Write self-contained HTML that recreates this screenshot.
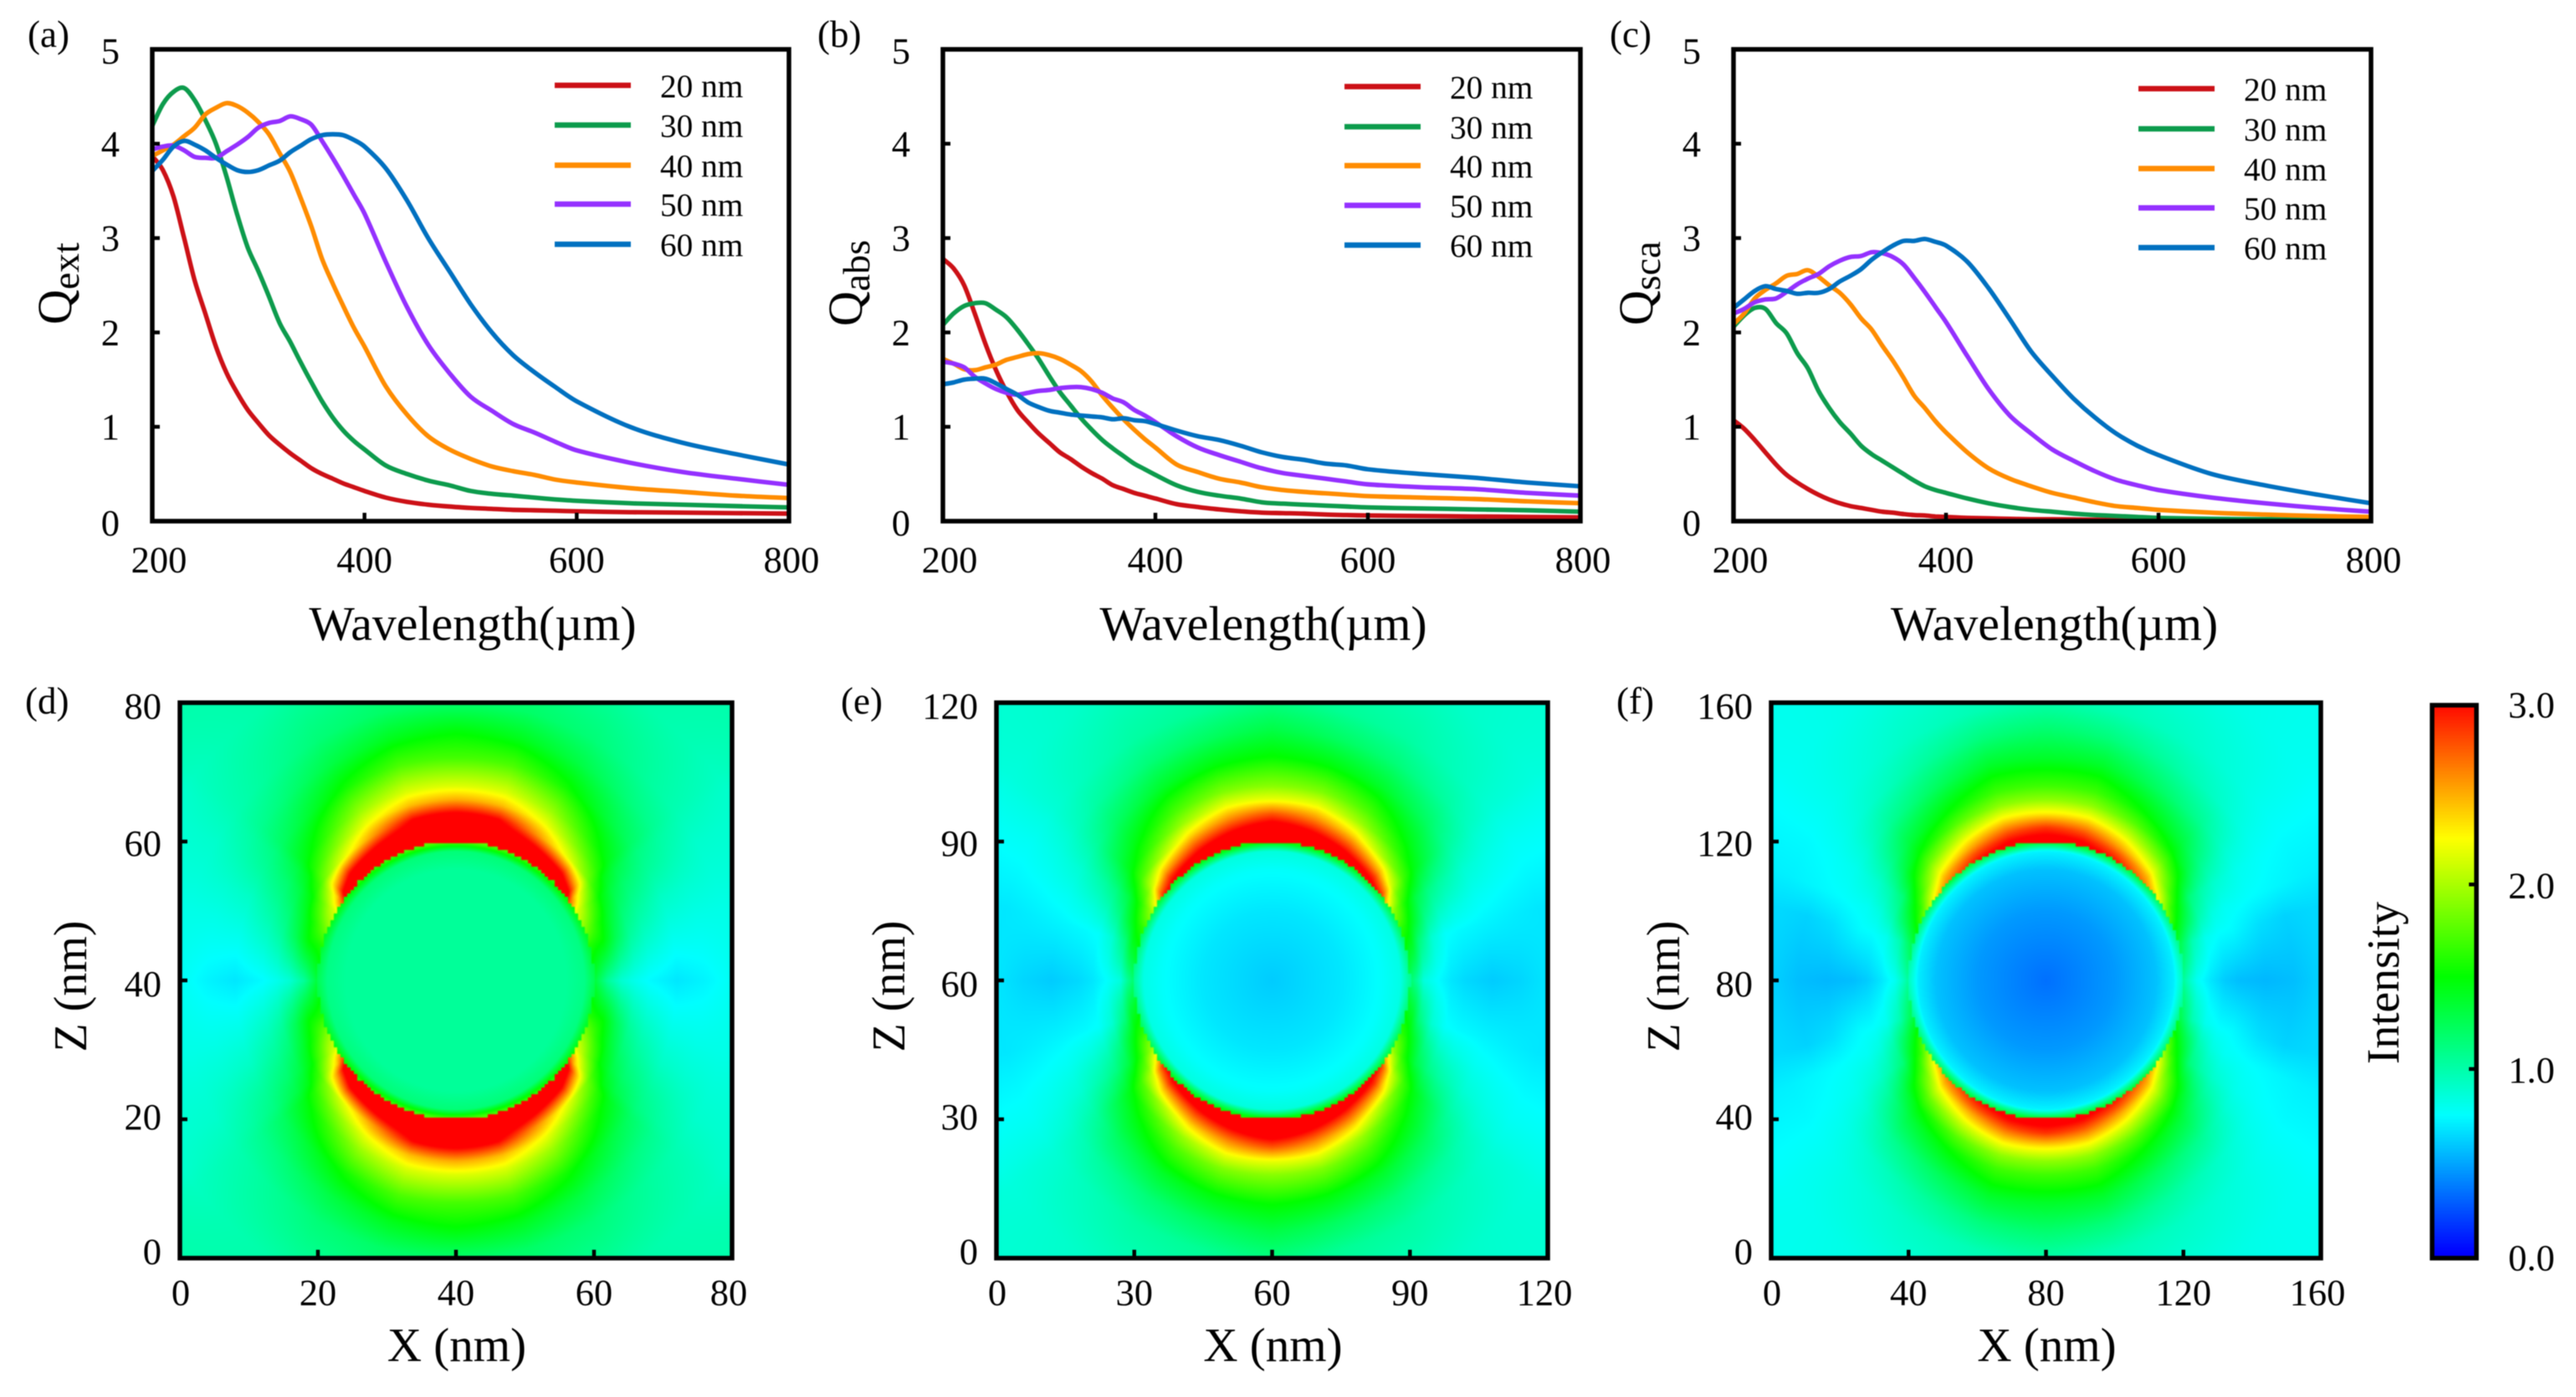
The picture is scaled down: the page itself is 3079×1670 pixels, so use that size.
<!DOCTYPE html>
<html><head><meta charset="utf-8"><title>Q spectra and near-field maps</title>
<style>
html,body{margin:0;padding:0;background:#fff;width:3079px;height:1670px;overflow:hidden}
#stage{position:relative;width:3079px;height:1670px}
canvas{position:absolute;display:block;filter:blur(.8px)}
svg{position:absolute;left:0;top:0;filter:blur(.4px)}
text{font-family:"Liberation Serif",serif;fill:#000}
</style></head>
<body>
<div id="stage">
<svg id="svg" width="3079" height="1670" viewBox="0 0 3079 1670"></svg>
</div>
<script>
const wavelengths=[200,210,220,230,240,250,260,270,280,290,300,310,320,330,340,350,360,370,380,390,400,420,440,460,480,500,520,540,560,580,600,650,700,750,800];
const seriesLabels=['20 nm','30 nm','40 nm','50 nm','60 nm'];
const seriesColors=['#cc1016','#0c9b4c','#ff8c00','#9430ff','#0070c0'];
const xTickLabels=[200,400,600,800];
const yTickLabels=[0,1,2,3,4,5];
const qext20=[3.87,3.72,3.44,3.0,2.55,2.2,1.85,1.57,1.36,1.18,1.04,.91,.81,.72,.64,.56,.5,.45,.40,.36,.32,.25,.205,.175,.155,.14,.13,.12,.115,.11,.105,.095,.09,.085,.08];
const qext30=[4.19,4.42,4.55,4.59,4.46,4.25,4.0,3.65,3.25,2.9,2.65,2.38,2.1,1.9,1.68,1.47,1.27,1.1,.96,.85,.76,.59,.50,.43,.38,.32,.29,.27,.25,.23,.215,.19,.175,.16,.145];
const qext40=[3.87,3.93,3.99,4.08,4.17,4.31,4.38,4.43,4.4,4.33,4.23,4.1,3.9,3.7,3.42,3.12,2.78,2.52,2.28,2.05,1.85,1.43,1.13,.9,.76,.66,.58,.53,.49,.44,.41,.35,.31,.27,.245];
const qext50=[3.94,3.97,3.98,3.93,3.86,3.85,3.85,3.92,3.99,4.07,4.17,4.22,4.24,4.29,4.26,4.2,4.03,3.85,3.66,3.46,3.26,2.75,2.27,1.87,1.57,1.32,1.17,1.03,.94,.84,.75,.62,.52,.45,.385];
const qext60=[3.71,3.83,3.97,4.03,3.99,3.93,3.85,3.78,3.72,3.7,3.72,3.77,3.82,3.91,3.98,4.05,4.09,4.1,4.09,4.04,3.97,3.74,3.4,3.0,2.65,2.3,2.0,1.76,1.58,1.42,1.27,1.0,.83,.71,.6];
const qabs20=[2.78,2.68,2.5,2.2,1.88,1.6,1.37,1.18,1.05,.93,.83,.73,.66,.58,.51,.45,.38,.34,.3,.27,.24,.18,.15,.125,.105,.09,.085,.08,.07,.065,.06,.055,.05,.045,.04];
const qabs30=[2.08,2.2,2.28,2.31,2.31,2.24,2.16,2.03,1.88,1.72,1.54,1.37,1.23,1.09,.97,.86,.77,.69,.61,.55,.49,.38,.31,.27,.24,.2,.185,.175,.165,.155,.145,.135,.125,.115,.1];
const qabs40=[1.72,1.67,1.61,1.6,1.63,1.66,1.71,1.74,1.77,1.78,1.76,1.72,1.66,1.59,1.48,1.33,1.2,1.08,.97,.87,.78,.6,.52,.45,.41,.36,.33,.31,.295,.28,.265,.25,.235,.21,.19];
const qabs50=[1.69,1.67,1.63,1.53,1.46,1.4,1.36,1.34,1.36,1.38,1.39,1.41,1.42,1.42,1.4,1.36,1.3,1.26,1.18,1.12,1.05,.9,.78,.7,.63,.56,.51,.48,.45,.42,.39,.36,.34,.3,.27];
const qabs60=[1.45,1.47,1.5,1.51,1.51,1.46,1.4,1.34,1.26,1.21,1.17,1.15,1.13,1.12,1.11,1.1,1.08,1.09,1.07,1.06,1.03,.96,.9,.86,.8,.73,.68,.65,.61,.59,.55,.5,.46,.41,.37];
const qsca20=[1.07,.98,.86,.73,.6,.49,.41,.34,.28,.23,.19,.16,.14,.12,.1,.09,.075,.065,.06,.05,.045,.035,.03,.025,.02,.02,.018,.015,.015,.012,.012,.01,.01,.008,.008];
const qsca30=[2.06,2.18,2.26,2.25,2.1,1.99,1.78,1.62,1.38,1.2,1.05,.93,.8,.71,.64,.57,.5,.43,.37,.33,.3,.24,.19,.15,.12,.1,.08,.065,.055,.045,.035,.025,.02,.015,.01];
const qsca40=[2.09,2.2,2.36,2.45,2.52,2.6,2.62,2.66,2.59,2.5,2.42,2.3,2.15,2.03,1.86,1.7,1.52,1.33,1.2,1.06,.94,.73,.56,.45,.37,.3,.25,.2,.16,.14,.12,.09,.07,.055,.045];
const qsca50=[2.2,2.25,2.32,2.35,2.36,2.43,2.51,2.57,2.62,2.7,2.76,2.8,2.81,2.85,2.84,2.8,2.72,2.58,2.43,2.27,2.11,1.75,1.4,1.12,.93,.76,.64,.53,.44,.38,.33,.25,.19,.14,.1];
const qsca60=[2.26,2.35,2.44,2.49,2.46,2.44,2.41,2.42,2.42,2.46,2.54,2.6,2.67,2.77,2.85,2.92,2.97,2.97,2.99,2.96,2.92,2.75,2.47,2.14,1.8,1.54,1.3,1.1,.93,.8,.7,.5,.38,.28,.19];

const fieldAngles=[0,15,22,30,35,38,45,60,75,90];
const fieldRadii=[1,1.05,1.1,1.2,1.3,1.4,1.6,1.8,2,2.4,2.9];
const fieldD=[
[1.35,1.2,1.05,.88,.8,.74,.68,.72,.78,.85,.9],
[1.6,1.55,1.5,1.25,1.05,.95,.84,.82,.82,.85,.9],
[1.9,1.75,1.6,1.35,1.15,1.05,.92,.88,.86,.86,.92],
[2.2,2.05,1.85,1.5,1.3,1.18,1.05,.97,.9,.88,.95],
[2.8,2.4,2.15,1.7,1.45,1.3,1.12,1.02,.95,.9,.97],
[3.3,2.9,2.5,1.85,1.6,1.42,1.2,1.07,.98,.93,1],
[3.6,3.25,2.9,2.1,1.8,1.58,1.3,1.13,1.03,.97,1],
[3.9,3.5,3.15,2.55,2.2,1.95,1.55,1.3,1.15,1.02,1],
[4,3.7,3.3,3,2.45,2.15,1.72,1.42,1.2,1.05,1],
[4.2,3.9,3.5,3.05,2.5,2.15,1.7,1.47,1.18,1.08,1]];
const fieldE=[
[1.2,1.05,.85,.75,.68,.64,.6,.63,.68,.72,.75],
[1.5,1.4,1.15,.88,.76,.74,.72,.7,.68,.7,.75],
[1.65,1.55,1.4,1.08,.92,.85,.78,.75,.73,.72,.8],
[2,1.8,1.6,1.3,1.12,1.02,.88,.82,.78,.78,.85],
[2.5,2.15,1.85,1.55,1.32,1.18,.98,.88,.83,.82,.87],
[2.9,2.5,2.1,1.7,1.45,1.3,1.05,.93,.87,.85,.88],
[3.1,2.85,2.5,1.9,1.62,1.45,1.2,1.02,.93,.88,.88],
[3.3,3.1,2.85,2.35,1.95,1.72,1.38,1.15,1.02,.93,.88],
[3.7,3.35,3.05,2.6,2.2,1.88,1.48,1.22,1.06,.95,.9],
[3.9,3.5,3.2,2.75,2.2,1.9,1.52,1.3,1.12,.98,.9]];
const fieldF=[
[1.05,.9,.78,.68,.6,.56,.54,.56,.62,.66,.7],
[1.3,1.15,.98,.8,.75,.74,.66,.62,.64,.66,.7],
[1.55,1.4,1.25,.98,.84,.78,.75,.73,.71,.7,.75],
[1.9,1.65,1.5,1.15,1,.9,.8,.76,.74,.74,.78],
[2.2,1.95,1.7,1.4,1.18,1.03,.87,.8,.77,.76,.8],
[2.4,2.1,1.85,1.55,1.3,1.12,.93,.83,.79,.78,.8],
[2.65,2.45,2.2,1.8,1.5,1.32,1.06,.9,.84,.8,.8],
[2.95,2.75,2.5,2.1,1.75,1.52,1.22,1.03,.92,.84,.8],
[3.1,2.95,2.75,2.3,1.92,1.68,1.38,1.14,.97,.86,.8],
[3.15,3,2.85,2.3,1.92,1.68,1.38,1.18,1,.88,.8]];
const innerAngles=[0,45,90];
const innerRadii=[0,.5,.8,.93,1];
const innerD=[[1.05,1.05,1.05,1.1,1.25],[1.05,1.05,1.05,1.15,1.6],[1.05,1.05,1.05,1.15,1.8]];
const innerE=[[.6,.68,.76,.82,1.05],[.6,.68,.76,.84,1.45],[.6,.68,.76,.85,1.6]];
const innerF=[[.33,.45,.57,.7,.95],[.33,.45,.57,.72,1.35],[.33,.45,.57,.72,1.45]];
const heatTicksD=[0,20,40,60,80];
const heatTicksE=[0,30,60,90,120];
const heatTicksF=[0,40,80,120,160];
const colorbarTicks=[0,1,2,3];

const NS='http://www.w3.org/2000/svg';
const svg=document.getElementById('svg');
const stage=document.getElementById('stage');

function shape(tag,attrs,name){
  const el=document.createElementNS(NS,tag);
  for(const k in attrs)el.setAttribute(k,attrs[k]);
  
  
  svg.appendChild(el);
  return el;
}
function label(str,x,y,size,anchor,name,rot){
  const el=document.createElementNS(NS,'text');
  el.setAttribute('x',x);
  el.setAttribute('y',y);
  el.setAttribute('font-size',size);
  el.setAttribute('text-anchor',anchor||'start');
  if(rot)el.setAttribute('transform','rotate(-90 '+x+' '+y+')');
  el.textContent=str;
  
  
  svg.appendChild(el);
  return el;
}
function smoothPath(pts){
  let d='M'+pts[0][0].toFixed(1)+' '+pts[0][1].toFixed(1);
  for(let i=0;i<pts.length-1;i++){
    const p0=pts[Math.max(0,i-1)],p1=pts[i],p2=pts[i+1],p3=pts[Math.min(pts.length-1,i+2)];
    const h=p2[0]-p1[0];
    const m1=(p2[1]-p0[1])/(p2[0]-p0[0]),m2=(p3[1]-p1[1])/(p3[0]-p1[0]);
    d+=' C'+(p1[0]+h/3).toFixed(1)+' '+(p1[1]+m1*h/3).toFixed(1)+' '+(p2[0]-h/3).toFixed(1)+' '+(p2[1]-m2*h/3).toFixed(1)+' '+p2[0].toFixed(1)+' '+p2[1].toFixed(1);
  }
  return d;
}

function linePanel(p){
  const x=v=>p.x0+(v-200)/600*(p.x1-p.x0);
  const y=v=>p.y1-v/5*(p.y1-p.y0);
  p.series.forEach((vals,i)=>{
    const pts=vals.map((v,j)=>[x(wavelengths[j]),y(v)]);
    shape('path',{d:smoothPath(pts),fill:'none',stroke:seriesColors[i],'stroke-width':5.4,'stroke-linejoin':'round','clip-path':'url(#clip-'+p.id+')'},p.id+'-line-'+seriesLabels[i].replace(' ','-'));
    const ly=p.legendY[i];
    shape('line',{x1:p.legendX,x2:p.legendX+91,y1:ly,y2:ly,stroke:seriesColors[i],'stroke-width':6.5},p.id+'-legend-line-'+seriesLabels[i].replace(' ','-'));
    label(seriesLabels[i],p.legendX+126,ly+14,39.3,'start',p.id+'-legend-label-'+seriesLabels[i].replace(' ','-'));
  });
  shape('rect',{x:p.x0,y:p.y0,width:p.x1-p.x0,height:p.y1-p.y0,fill:'none',stroke:'#000','stroke-width':5.5},p.id+'-frame');
  xTickLabels.forEach((t,i)=>{
    if(i>0&&i<xTickLabels.length-1)shape('line',{x1:x(t),x2:x(t),y1:p.y1,y2:p.y1-10,stroke:'#000','stroke-width':4.5},p.id+'-x-tick-'+t);
    const nudge=i===0?8:(i===xTickLabels.length-1?3:0);
    label(String(t),x(t)+nudge,684,44.5,'middle',p.id+'-x-tick-label-'+t);
  });
  yTickLabels.forEach((t,i)=>{
    if(i>0&&i<yTickLabels.length-1)shape('line',{x1:p.x0,x2:p.x0+9,y1:y(t),y2:y(t),stroke:'#000','stroke-width':4.5},p.id+'-y-tick-'+t);
    label(String(t),p.x0-39,y(t)+15+(t===0?2:(t===5?2:0)),44.5,'end',p.id+'-y-tick-label-'+t);
  });
  label('Wavelength(µm)',p.xLabelX,765,57.8,'middle',p.id+'-x-axis-title');
  const q=label('Q',p.qx,p.qy,58,'start',p.id+'-y-axis-title',true);
  const sub=document.createElementNS(NS,'tspan');
  sub.setAttribute('dy','9');
  sub.setAttribute('font-size','46');
  sub.textContent=p.sub;
  
  
  q.appendChild(sub);
  label(p.tag,p.tagX,56,45,'start',p.id+'-panel-label');
}

function rainbow(v){
  const t=Math.max(0,Math.min(3,v))/0.75;
  if(t<1)return [0,255*t,255];
  if(t<2)return [0,255,255*(2-t)];
  if(t<3)return [255*(t-2),255,0];
  return [255,255*(4-t),0];
}
function locate(arr,v){
  let i=0;
  while(i<arr.length-2&&v>arr[i+1])i++;
  const f=Math.max(0,Math.min(1,(v-arr[i])/(arr[i+1]-arr[i])));
  return [i,f];
}
function table(tbl,angles,radii,a,r){
  const [i,fa]=locate(angles,a);
  const [j,fr]=locate(radii,r);
  const lo=tbl[i][j]*(1-fr)+tbl[i][j+1]*fr;
  const hi=tbl[i+1][j]*(1-fr)+tbl[i+1][j+1]*fr;
  return lo*(1-fa)+hi*fa;
}
function heatPanel(p){
  const w=p.x1-p.x0,h=p.y1-p.y0;
  const cv=document.createElement('canvas');
  cv.width=w;cv.height=h;
  cv.style.left=p.x0+'px';cv.style.top=p.y0+'px';
  
  
  stage.insertBefore(cv,svg);
  const ctx=cv.getContext('2d');
  const img=ctx.createImageData(w,h);
  const cell=4;
  for(let py=0;py<h;py++){
    for(let px=0;px<w;px++){
      const dx=(px+.5-w/2)/(w/4),dy=(py+.5-h/2)/(h/4);
      const r=Math.hypot(dx,dy);
      const a=Math.atan2(Math.abs(dy),Math.abs(dx))*180/Math.PI;
      const qx=((Math.floor(px/cell)+.5)*cell-w/2)/(w/4);
      const qy=((Math.floor(py/cell)+.5)*cell-h/2)/(h/4);
      const inside=Math.hypot(qx,qy)<1;
      const v=inside?table(p.inner,innerAngles,innerRadii,a,Math.min(r,1)):table(p.field,fieldAngles,fieldRadii,a,Math.max(r,1));
      const c=rainbow(v);
      const k=(py*w+px)*4;
      img.data[k]=c[0];img.data[k+1]=c[1];img.data[k+2]=c[2];img.data[k+3]=255;
    }
  }
  ctx.putImageData(img,0,0);
  const top=p.ticks[p.ticks.length-1];
  const x=v=>p.x0+v/top*w;
  const y=v=>p.y1-v/top*h;
  const yNudge=[-8,-3,4,2,4];
  shape('rect',{x:p.x0,y:p.y0,width:w,height:h,fill:'none',stroke:'#000','stroke-width':5.5},p.id+'-frame');
  p.ticks.forEach((t,i)=>{
    if(i>0&&i<p.ticks.length-1){
      shape('line',{x1:x(t),x2:x(t),y1:p.y1,y2:p.y1-10,stroke:'#000','stroke-width':4.5},p.id+'-x-tick-'+t);
      shape('line',{x1:p.x0,x2:p.x0+9,y1:y(t),y2:y(t),stroke:'#000','stroke-width':4.5},p.id+'-y-tick-'+t);
    }
    label(String(t),x(t)+(i===0?1:(i===p.ticks.length-1?-4:0)),1560,44.5,'middle',p.id+'-x-tick-label-'+t);
    label(String(t),p.x0-22,y(t)+yNudge[i]+15,44.5,'end',p.id+'-y-tick-label-'+t);
  });
  label('X (nm)',(p.x0+p.x1)/2+1,1627,57,'middle',p.id+'-x-axis-title');
  label('Z (nm)',p.zx,1179,56,'middle',p.id+'-y-axis-title',true);
  label(p.tag,p.tagX,853,45,'start',p.id+'-panel-label');
}

const defs=document.createElementNS(NS,'defs');
svg.appendChild(defs);
const linePanels=[
 {id:'panel-a',tag:'(a)',tagX:33,x0:182,x1:943,y0:59,y1:623,series:[qext20,qext30,qext40,qext50,qext60],legendX:663,legendY:[102,149.5,197.5,244,292],xLabelX:565,qx:85,qy:388,sub:'ext'},
 {id:'panel-b',tag:'(b)',tagX:977,x0:1127,x1:1889,y0:59,y1:623,series:[qabs20,qabs30,qabs40,qabs50,qabs60],legendX:1607,legendY:[103.5,151.5,198,245.5,293],xLabelX:1510,qx:1030,qy:390,sub:'abs'},
 {id:'panel-c',tag:'(c)',tagX:1924,x0:2072,x1:2834,y0:59,y1:623,series:[qsca20,qsca30,qsca40,qsca50,qsca60],legendX:2556,legendY:[106,154,201.5,248.5,296],xLabelX:2455.5,qx:1975,qy:389,sub:'sca'}
];
linePanels.forEach(p=>{
  const cp=document.createElementNS(NS,'clipPath');
  cp.setAttribute('id','clip-'+p.id);
  const rc=document.createElementNS(NS,'rect');
  rc.setAttribute('x',p.x0);rc.setAttribute('y',p.y0);
  rc.setAttribute('width',p.x1-p.x0);rc.setAttribute('height',p.y1-p.y0);
  cp.appendChild(rc);defs.appendChild(cp);
  linePanel(p);
});
[
 {id:'panel-d',tag:'(d)',tagX:30,x0:215,x1:875,y0:840,y1:1504,field:fieldD,inner:innerD,ticks:heatTicksD,zx:103},
 {id:'panel-e',tag:'(e)',tagX:1005,x0:1191,x1:1850,y0:840,y1:1504,field:fieldE,inner:innerE,ticks:heatTicksE,zx:1081},
 {id:'panel-f',tag:'(f)',tagX:1932,x0:2117,x1:2774,y0:840,y1:1504,field:fieldF,inner:innerF,ticks:heatTicksF,zx:2007}
].forEach(heatPanel);

// colour bar
(function(){
  const x0=2907,x1=2960,y0=843,y1=1504;
  const zeroY=1498.5,unit=220.6;
  const y=v=>zeroY-v*unit;
  const labelNudge=[5,1,1,6];
  const cv=document.createElement('canvas');
  cv.width=x1-x0;cv.height=y1-y0;
  cv.style.left=x0+'px';cv.style.top=y0+'px';
  
  
  stage.insertBefore(cv,svg);
  const ctx=cv.getContext('2d');
  for(let i=0;i<cv.height;i++){
    const c=rainbow((zeroY-(y0+i+.5))/unit);
    ctx.fillStyle='rgb('+c.map(Math.round).join(',')+')';
    ctx.fillRect(0,i,cv.width,1);
  }
  shape('rect',{x:x0,y:y0,width:x1-x0,height:y1-y0,fill:'none',stroke:'#000','stroke-width':5.5},'colorbar-frame');
  colorbarTicks.forEach((t,i)=>{
    if(i>0&&i<colorbarTicks.length-1)shape('line',{x1:x1-9,x2:x1,y1:y(t),y2:y(t),stroke:'#000','stroke-width':4.5},'colorbar-tick-'+t);
    label(t.toFixed(1),2998,y(t)+15+labelNudge[i],44.5,'start','colorbar-label-'+t);
  });
  label('Intensity',2867,1175,55.5,'middle','colorbar-title',true);
})();
</script>
</body></html>
